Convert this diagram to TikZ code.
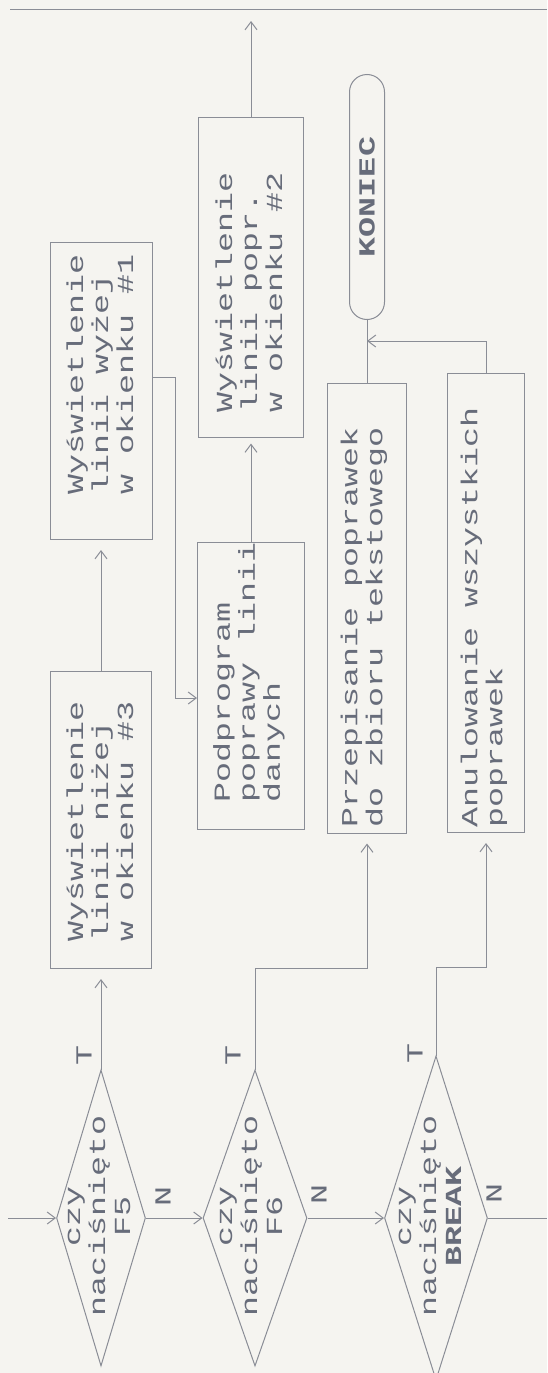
\documentclass[tikz,border=0pt]{standalone}
\usepackage{fontspec}
\newfontfamily\dotfont[FakeStretch=1.45]{Liberation Mono}
\usetikzlibrary{arrows.meta, shapes.geometric, shapes.misc, calc}
\definecolor{paper}{HTML}{F5F4F0}
\definecolor{ink}{HTML}{676C7A}
\definecolor{rule}{HTML}{8A8D96}

\begin{document}
\begin{tikzpicture}[x=1pt, y=-1pt,
		dots/.style={draw=rule, line width=1pt},
		box/.style={dots, rectangle, inner sep=0pt},
		decision/.style={dots, diamond, inner sep=0pt},
		terminal/.style={dots, rounded rectangle, rotate=90, inner sep=0pt, text=ink,
			font=\dotfont\bfseries\fontsize{23}{25}\selectfont},
		txt/.style={rotate=90, anchor=west, align=left, inner sep=0pt, text=ink,
			font=\dotfont\fontsize{23}{25}\selectfont},
		tag/.style={rotate=90, align=center, inner sep=0pt, text=ink,
			font=\dotfont\fontsize{23}{25}\selectfont},
		flow/.style={dots, -{Straight Barb[length=8pt,width=12pt,line width=1pt]}}]
		\fill[paper] (0,0) rectangle (547,1373);
		\useasboundingbox (0,0) rectangle (547,1373);

		% Return line along the top edge
		\coordinate (topL) at (10,9);
		\coordinate (topR) at (547,9);
		\draw[dots] (topL) -- (topR);

		% Key tests
		\coordinate (start) at (8,1218);
		\node[decision, minimum width=89pt, minimum height=296pt] (czyF5) at (101,1218) {};
		\node[decision, minimum width=104pt, minimum height=296pt] (czyF6) at (255,1218) {};
		\node[decision, minimum width=103pt, minimum height=324pt] (czyBr) at (436,1218) {};
		\node[tag] (czyF5txt) at (99,1216) {czy\\naciśnięto\\F5};
		\node[tag] (czyF6txt) at (251,1216) {czy\\naciśnięto\\F6};
		\node[tag] (czyBrtxt) at (430,1216) {czy\\naciśnięto\\\textbf{BREAK}};
		\coordinate (exit) at (547,1218);

		% Display column
		\node[box, minimum width=101pt, minimum height=297pt] (wysA) at (101,820) {};
		\node[txt] (wysAtxt) at (100,942) {Wyświetlenie\\linii niżej\\w okienku \#3};
		\node[box, minimum width=102pt, minimum height=297pt] (wysB) at (101,391) {};
		\node[txt] (wysBtxt) at (100,495) {Wyświetlenie\\linii wyżej\\w okienku \#1};

		% Edit column
		\node[box, minimum width=107pt, minimum height=287pt] (popC) at (251,686) {};
		\node[txt] (popCtxt) at (249,803) {Podprogram\\poprawy linii\\danych};
		\node[box, minimum width=105pt, minimum height=320pt] (wysD) at (251,277) {};
		\node[txt] (wysDtxt) at (249,413) {Wyświetlenie\\linii popr.\\w okienku \#2};

		% Closing branches
		\node[box, minimum width=79pt, minimum height=450pt] (przE) at (367,608) {};
		\node[txt] (przEtxt) at (364,828) {Przepisanie poprawek\\do zbioru tekstowego};
		\node[box, minimum width=77pt, minimum height=459pt] (anuF) at (486,603) {};
		\node[txt] (anuFtxt) at (484,828) {Anulowanie wszystkich\\poprawek};
		\node[terminal, minimum width=245pt, minimum height=35pt] (ret) at (367,197) {KONIEC};
		\coordinate (merge) at (367,341);

		% Yes / no marks
		\node[tag] (nF5) at (163,1196) {N};
		\node[tag] (nF6) at (319,1194) {N};
		\node[tag] (nBr) at (494,1193) {N};
		\node[tag] (tF5) at (84,1055) {T};
		\node[tag] (tF6) at (233,1055) {T};
		\node[tag] (tBr) at (415,1053) {T};

		% Connectors
		\draw[flow] (start) -- (czyF5.west);
		\draw[flow] (czyF5.east) -- (czyF6.west);
		\draw[flow] (czyF6.east) -- (czyBr.west);
		\draw[dots] (czyBr.east) -- (exit);
		\draw[flow, shorten >=10pt] (czyF5.north) -- (wysA.south);
		\draw[flow, shorten >=10pt] (wysA.north) -- (wysB.south);
		\draw[flow] ([yshift=14pt]wysB.east) -- ++(23,0) |- ([yshift=-12pt]popC.west);
		\draw[flow, shorten >=6pt] (popC.north) -- (wysD.south);
		\draw[flow, shorten >=12pt] (wysD.north) -- (wysD.north |- topL);
		\draw[flow, shorten >=10pt] (czyF6.north) -- ++(0,-101) -| (przE.south);
		\draw[flow, shorten >=10pt] (czyBr.north) -- ++(0,-88) -| (anuF.south);
		\draw[dots] (przE.north) -- (ret.west);
		\draw[flow] (anuF.north) |- (merge);
	\end{tikzpicture}
\end{document}
